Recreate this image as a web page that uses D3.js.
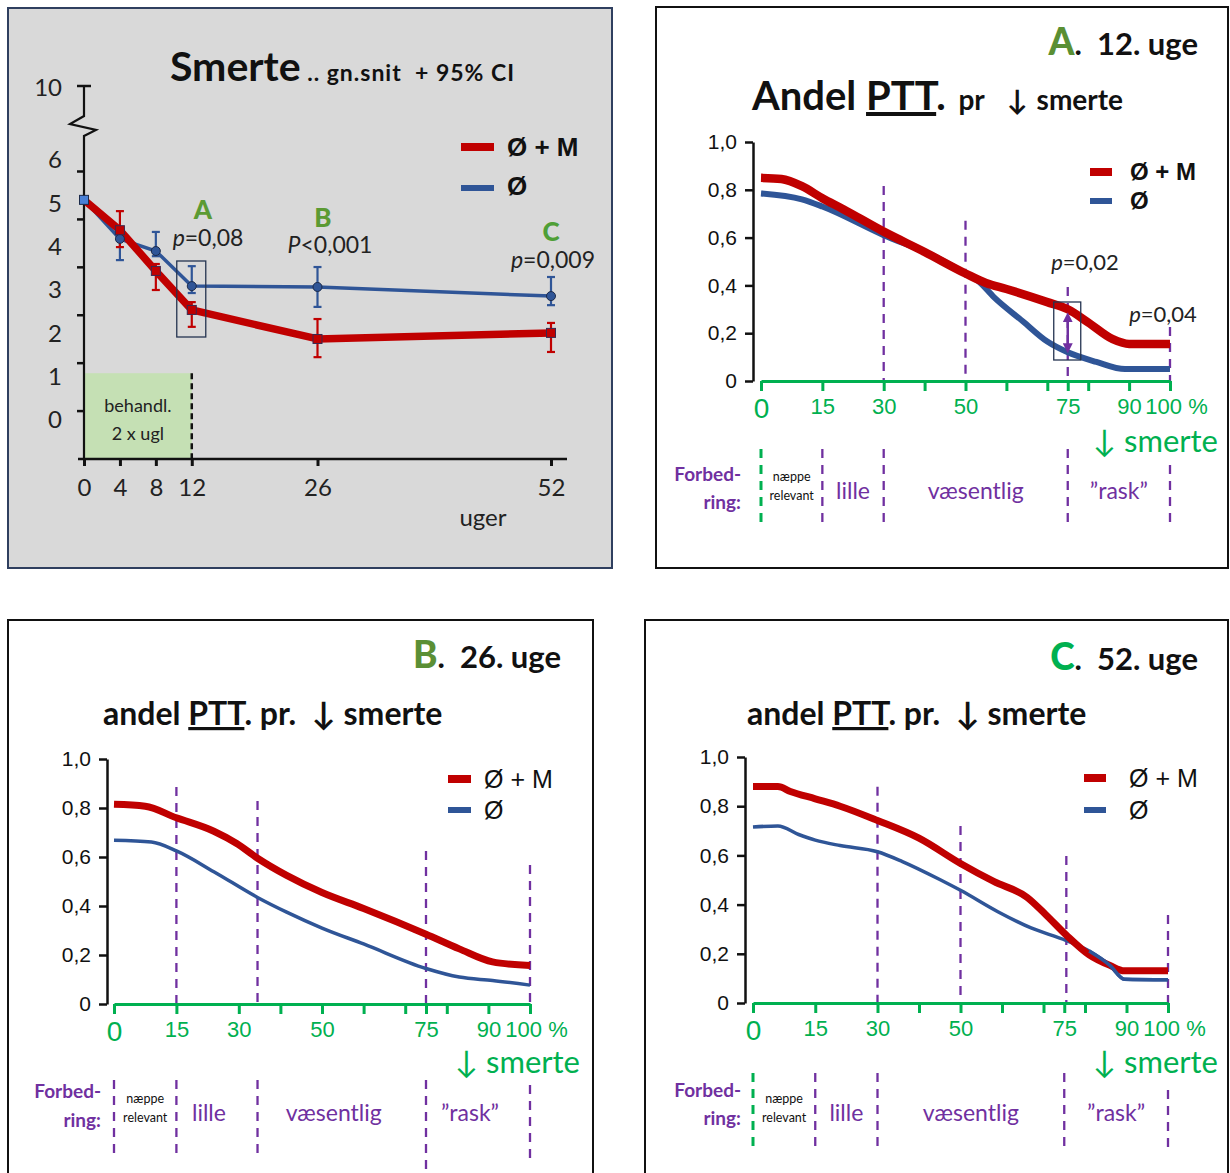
<!DOCTYPE html>
<html><head><meta charset="utf-8">
<script src="https://cdn.jsdelivr.net/npm/d3@7"></script>
<style>
body{margin:0;background:#fff;}
svg{display:block;}
text{font-family:Lato,'DejaVu Sans',sans-serif;}
.ar, .ar text{font-family:'Liberation Sans',Arial,sans-serif;}
</style></head><body>
<svg id="c" width="1230" height="1173"></svg>
<script>
// ---------------- DATA ----------------
// Panel 1: mean pain (0-10) with 95% CI by week
const weeks = [0, 4, 8, 12, 26, 52];
const painRed = [5.08, 4.38, 3.44, 2.54, 1.87, 2.01];      // Ø + M
const painRedLo = [5.08, 3.99, 3.00, 2.15, 1.45, 1.57];
const painRedHi = [5.08, 4.82, 3.60, 2.72, 2.33, 2.24];
const painBlue = [5.08, 4.18, 3.90, 3.09, 3.07, 2.86];     // Ø
const painBlueLo = [5.08, 3.69, 3.78, 2.93, 2.61, 2.65];
const painBlueHi = [5.08, 4.32, 4.34, 3.55, 3.53, 3.30];
const painTicks = [0, 1, 2, 3, 4, 5, 6];
const painTopTick = 10;
const treatWeeks = [0, 12];
const treatTop = 1.08;
const markLetters = ["A", "B", "C"];
const markWeeks = [12, 26, 52];
const pTexts1 = [["p", "=0,08"], ["P", "<0,001"], ["p", "=0,009"]];

// Panels A/B/C: share of patients (PTT) by % pain reduction
const pctTicks = [0, 15, 30, 40, 50, 60, 70, 75, 80, 90, 100];
const pctLabels = [0, 15, 30, 50, 75, 90, 100];
const shareTicks = [0, 0.2, 0.4, 0.6, 0.8, 1.0];

const aRedX = [0, 5, 10, 15, 20, 30, 40, 50, 55, 60, 70, 75, 80, 86, 90, 100];
const aRedY = [0.85, 0.845, 0.815, 0.765, 0.72, 0.625, 0.54, 0.45, 0.41, 0.385, 0.33, 0.30, 0.245, 0.175, 0.155, 0.155];
const aBlueX = [0, 10, 15, 30, 42, 50, 53, 57, 64, 70, 75, 82, 89, 100];
const aBlueY = [0.785, 0.76, 0.73, 0.61, 0.525, 0.45, 0.42, 0.35, 0.25, 0.165, 0.12, 0.08, 0.05, 0.05];

const bRedX = [0, 7.5, 15, 24, 29.5, 34.5, 41.5, 50, 60, 75, 83, 91, 100];
const bRedY = [0.815, 0.807, 0.76, 0.705, 0.655, 0.595, 0.525, 0.455, 0.39, 0.285, 0.225, 0.172, 0.157];
const bBlueX = [0, 9, 15, 24, 34.5, 41.5, 50, 60, 75, 83, 91, 100];
const bBlueY = [0.668, 0.661, 0.625, 0.54, 0.435, 0.375, 0.31, 0.245, 0.145, 0.11, 0.096, 0.077];

const cRedX = [0, 6, 9, 15, 21, 30, 40, 50, 58, 66, 70.5, 75.5, 81, 86, 89.5, 100];
const cRedY = [0.88, 0.88, 0.86, 0.83, 0.80, 0.742, 0.67, 0.567, 0.494, 0.43, 0.36, 0.276, 0.196, 0.153, 0.131, 0.131];
const cBlueX = [0, 6, 11, 15, 21, 30, 36, 45, 50, 59, 67, 75.5, 81, 86, 89.5, 100];
const cBlueY = [0.715, 0.72, 0.685, 0.662, 0.64, 0.615, 0.575, 0.502, 0.458, 0.371, 0.305, 0.254, 0.211, 0.153, 0.097, 0.095];

// dashed reference lines inside plots: [pct, top value]
const aGuides = [[30, 0.816], [50, 0.67], [75, 0.393], [100, 0.226]];
const bGuides = [[15, 0.886], [34.5, 0.829], [75, 0.624], [100, 0.567]];
const cGuides = [[30, 0.879], [50, 0.72], [75.5, 0.598], [100, 0.358]];
// improvement-category dividers
const aDivs = [0, 15, 30, 75, 100];
const bDivs = [0, 15, 34.5, 75, 100];
const cDivs = [0, 15, 30, 75, 100];
const zoneNames = ["lille", "væsentlig", "\u201Drask\u201D"];
const legendNames = ["Ø + M", "Ø"];

// ---------------- COLORS ----------------
const RED = "#c00000", BLUE = "#2f5597", GREEN = "#00b050", PURPLE = "#7030a0";

const svg = d3.select("#c");
svg.append("rect").attr("width", 1230).attr("height", 1173).attr("fill", "#fff");

// ================= PANEL 1 =================
(function () {
  const g = svg.append("g");
  g.append("rect").attr("x", 8).attr("y", 8).attr("width", 604).attr("height", 560)
    .attr("fill", "#d9d9d9").attr("stroke", "#2f3f5f").attr("stroke-width", 2);

  const x = d3.scaleLinear([0, 52], [84, 551]);
  const yT = d3.scaleLinear([0, 6], [459, 171.5]);   // tick marks
  const y = d3.scaleLinear([0, 6], [420, 160]);      // labels & data as read

  // treatment band
  g.append("rect").attr("x", x(treatWeeks[0])).attr("y", y(treatTop))
    .attr("width", x(treatWeeks[1]) - x(treatWeeks[0])).attr("height", yT(0) - y(treatTop))
    .attr("fill", "#c5e0b4");
  g.append("line").attr("x1", x(12)).attr("x2", x(12)).attr("y1", y(treatTop)).attr("y2", yT(0))
    .attr("stroke", "#111").attr("stroke-width", 2.5).attr("stroke-dasharray", "6,4");
  const mid = (x(treatWeeks[0]) + x(treatWeeks[1])) / 2;
  g.append("text").attr("x", mid).attr("y", 412).attr("text-anchor", "middle")
    .attr("font-size", 18).attr("fill", "#222").text("behandl.");
  g.append("text").attr("x", mid).attr("y", 440).attr("text-anchor", "middle")
    .attr("font-size", 18).attr("fill", "#222").text("2 x ugl");

  // y axis with break
  const ax = x(0), top = 86;
  g.append("path").attr("d", `M${ax},${top}V116L${ax - 14},124L${ax + 12},130L${ax},136V${yT(0)}`)
    .attr("fill", "none").attr("stroke", "#111").attr("stroke-width", 2.2);
  g.append("line").attr("x1", ax - 7).attr("x2", ax + 7).attr("y1", top).attr("y2", top)
    .attr("stroke", "#111").attr("stroke-width", 2.5);
  g.selectAll(".yt").data(painTicks.slice(1)).join("line")
    .attr("x1", ax - 7).attr("x2", ax).attr("y1", d => yT(d)).attr("y2", d => yT(d))
    .attr("stroke", "#111").attr("stroke-width", 2.5);
  g.selectAll(".yl").data(painTicks).join("text")
    .attr("x", 62).attr("y", d => y(d)).attr("dy", "0.35em").attr("text-anchor", "end")
    .attr("font-size", 24).attr("fill", "#222").text(d => d);
  g.append("text").attr("x", 62).attr("y", top + 2).attr("dy", "0.35em").attr("text-anchor", "end")
    .attr("font-size", 24).attr("fill", "#222").text(painTopTick);

  // x axis
  g.append("line").attr("x1", 78).attr("x2", 567).attr("y1", yT(0)).attr("y2", yT(0))
    .attr("stroke", "#111").attr("stroke-width", 2.5);
  const xa = d3.axisBottom(x).tickValues(weeks).tickSize(7).tickPadding(13).tickSizeOuter(0);
  const xg = g.append("g").attr("transform", `translate(0,${yT(0)})`).call(xa);
  xg.select(".domain").remove();
  xg.selectAll(".tick line").attr("stroke", "#111").attr("stroke-width", 3);
  xg.selectAll(".tick text").attr("font-size", 24).attr("fill", "#222").attr("font-family", "Lato");
  g.append("text").attr("x", 483).attr("y", 526).attr("text-anchor", "middle")
    .attr("font-size", 24).attr("fill", "#222").text("uger");

  // lines
  const line = d3.line().x(d => x(d[0])).y(d => y(d[1]));
  g.append("path").datum(d3.zip(weeks, painBlue)).attr("d", line)
    .attr("fill", "none").attr("stroke", BLUE).attr("stroke-width", 3.5);
  g.append("path").datum(d3.zip(weeks, painRed)).attr("d", line)
    .attr("fill", "none").attr("stroke", RED).attr("stroke-width", 7.5).attr("stroke-linejoin", "round");

  function bars(lo, hi, col) {
    weeks.forEach((w, i) => {
      if (lo[i] === hi[i]) return;
      const cx = x(w);
      g.append("line").attr("x1", cx).attr("x2", cx).attr("y1", y(lo[i])).attr("y2", y(hi[i]))
        .attr("stroke", col).attr("stroke-width", 2.2);
      [lo[i], hi[i]].forEach(v => g.append("line").attr("x1", cx - 4).attr("x2", cx + 4)
        .attr("y1", y(v)).attr("y2", y(v)).attr("stroke", col).attr("stroke-width", 2.2));
    });
  }
  bars(painBlueLo, painBlueHi, BLUE);
  bars(painRedLo, painRedHi, RED);

  g.selectAll(".bc").data(d3.zip(weeks, painBlue).slice(1)).join("circle")
    .attr("cx", d => x(d[0])).attr("cy", d => y(d[1])).attr("r", 4.5)
    .attr("fill", BLUE).attr("stroke", "#1b2a4a").attr("stroke-width", 1);
  g.selectAll(".rs").data(d3.zip(weeks, painRed).slice(1)).join("rect")
    .attr("x", d => x(d[0]) - 4.5).attr("y", d => y(d[1]) - 4.5).attr("width", 9).attr("height", 9)
    .attr("fill", RED).attr("stroke", "#3a2850").attr("stroke-width", 1);
  g.append("rect").attr("x", x(0) - 4.5).attr("y", y(painBlue[0]) - 4.5).attr("width", 9).attr("height", 9)
    .attr("fill", "#4a80d6").attr("stroke", "#1b2a4a").attr("stroke-width", 1);

  // highlight box at week 12
  g.append("rect").attr("x", x(12) - 15).attr("y", 261).attr("width", 29).attr("height", 76)
    .attr("fill", "none").attr("stroke", "#243350").attr("stroke-width", 1.3);

  // letters and p-values
  const letY = [210, 218, 232], pY = [238, 245, 260], pX = [208, 330, 553], letX = [203, 323, 551];
  markLetters.forEach((L, i) => {
    g.append("text").attr("x", letX[i]).attr("y", letY[i]).attr("dy", "0.35em").attr("text-anchor", "middle")
      .attr("font-size", 26).attr("font-weight", 900).attr("fill", i === 2 ? "#4f9f37" : "#5b9a33").text(L);
    const t = g.append("text").attr("x", pX[i]).attr("y", pY[i]).attr("dy", "0.35em").attr("text-anchor", "middle")
      .attr("font-size", 23).attr("fill", "#222");
    t.append("tspan").attr("font-style", "italic").text(pTexts1[i][0]);
    t.append("tspan").text(pTexts1[i][1]);
  });

  // title
  const tt = g.append("text").attr("x", 170).attr("y", 81).attr("font-weight", 700).attr("fill", "#111")
    .attr("xml:space", "preserve");
  tt.append("tspan").attr("font-size", 41).text("Smerte");
  tt.append("tspan").attr("font-size", 23).attr("letter-spacing", 1).text(" .. gn.snit  + 95% CI");

  // legend
  const lg = g.append("g").attr("class", "ar");
  lg.append("rect").attr("x", 461).attr("y", 143).attr("width", 33).attr("height", 8).attr("fill", RED);
  lg.append("rect").attr("x", 461).attr("y", 185).attr("width", 33).attr("height", 6).attr("fill", BLUE);
  lg.append("text").attr("x", 507).attr("y", 147).attr("dy", "0.35em").attr("font-size", 26).attr("font-weight", 700)
    .attr("fill", "#111").text(legendNames[0]);
  lg.append("text").attr("x", 507).attr("y", 186).attr("dy", "0.35em").attr("font-size", 26).attr("font-weight", 700)
    .attr("fill", "#111").text(legendNames[1]);
})();

// ================= PANELS A/B/C =================
const defs = svg.append("defs");
["s", "e"].forEach(k => defs.append("marker").attr("id", "ar" + k).attr("viewBox", "0 0 10 10")
  .attr("refX", 5).attr("refY", 5).attr("markerWidth", 4).attr("markerHeight", 4)
  .attr("orient", "auto-start-reverse")
  .append("path").attr("d", "M0,0L10,5L0,10z").attr("fill", PURPLE));

function panel(o) {
  const g = svg.append("g");
  g.append("rect").attr("x", o.box[0]).attr("y", o.box[1]).attr("width", o.box[2]).attr("height", o.box[3])
    .attr("fill", "#fff").attr("stroke", "#111").attr("stroke-width", 2);
  const x = d3.scaleLinear([0, 100], [o.x0, o.x1]);
  const y = d3.scaleLinear([0, 1], [o.y0, o.y1]);

  // header
  const h = g.append("text").attr("x", o.hdr[0]).attr("y", o.hdr[1]).attr("text-anchor", "end")
    .attr("font-weight", 700).attr("xml:space", "preserve");
  h.append("tspan").attr("font-size", 37).attr("font-weight", 900).attr("fill", o.letCol).text(o.letter);
  h.append("tspan").attr("font-size", 31).attr("fill", "#111").text(".  " + o.week + ". uge");

  // title
  const t = g.append("text").attr("x", o.ttl[0]).attr("y", o.ttl[1]).attr("font-weight", 700)
    .attr("fill", "#111").attr("xml:space", "preserve");
  if (o.big) {
    t.append("tspan").attr("font-size", 40).text("Andel ");
    t.append("tspan").attr("font-size", 40).style("text-decoration", "underline").text("PTT");
    t.append("tspan").attr("font-size", 40).text(".");
    t.append("tspan").attr("font-size", 28).attr("dx", 6).text(" pr");
    t.append("tspan").attr("font-size", 28).attr("dx", 22).text("↓");
    t.append("tspan").attr("font-size", 28).attr("dx", 2).text(" smerte");
  } else {
    t.append("tspan").attr("font-size", 32).text("andel ");
    t.append("tspan").attr("font-size", 32).style("text-decoration", "underline").text("PTT");
    t.append("tspan").attr("font-size", 32).text(". pr.  ↓ smerte");
  }

  // guide lines
  g.selectAll(".gd").data(o.guides).join("line")
    .attr("x1", d => x(d[0])).attr("x2", d => x(d[0])).attr("y1", d => y(d[1])).attr("y2", y(0))
    .attr("stroke", PURPLE).attr("stroke-width", 2.3).attr("stroke-dasharray", "9,7");

  // y axis
  const ya = d3.axisLeft(y).tickValues(shareTicks).tickSize(8).tickPadding(8).tickSizeOuter(0)
    .tickFormat(d => d === 0 ? "0" : d3.format(".1f")(d).replace(".", ","));
  const yg = g.append("g").attr("class", "ar").attr("transform", `translate(${o.yAxisX},0)`).call(ya);
  yg.select(".domain").attr("stroke", "#111").attr("stroke-width", 2.5);
  yg.selectAll(".tick line").attr("stroke", "#111").attr("stroke-width", 2.5);
  yg.selectAll(".tick text").attr("font-size", 21).attr("fill", "#111");

  // x axis (green)
  const xa = d3.axisBottom(x).tickValues(pctTicks).tickSize(10).tickPadding(7).tickSizeOuter(0)
    .tickFormat(d => pctLabels.includes(d) ? (d === 100 ? "100 %" : d) : "");
  const xg = g.append("g").attr("class", "ar").attr("transform", `translate(0,${o.y0})`).call(xa);
  xg.select(".domain").attr("stroke", GREEN).attr("stroke-width", 3);
  xg.selectAll(".tick line").attr("stroke", GREEN).attr("stroke-width", 3);
  xg.selectAll(".tick text").attr("font-size", d => d === 0 ? 28 : 22).attr("fill", GREEN)
    .attr("dx", d => d === 100 ? 6 : 0);

  // curves
  const line = d3.line().x(d => x(d[0])).y(d => y(d[1])).curve(d3.curveMonotoneX);
  g.append("path").datum(d3.zip(o.bx, o.by)).attr("d", line).attr("fill", "none")
    .attr("stroke", BLUE).attr("stroke-width", o.bw);
  g.append("path").datum(d3.zip(o.rx, o.ry)).attr("d", line).attr("fill", "none")
    .attr("stroke", RED).attr("stroke-width", o.rw);
  if (o.blueOnTop) {
    g.append("path").datum(d3.zip(o.bx, o.by).filter(d => d[0] >= 78)).attr("d", line).attr("fill", "none")
      .attr("stroke", BLUE).attr("stroke-width", o.bw);
  }

  // legend
  const lg = g.append("g").attr("class", "ar");
  lg.append("rect").attr("x", o.leg[0]).attr("y", o.leg[1] - 4).attr("width", o.leg[2]).attr("height", 8).attr("fill", RED);
  lg.append("rect").attr("x", o.leg[0]).attr("y", o.leg[3] - 3).attr("width", o.leg[2]).attr("height", 6).attr("fill", BLUE);
  lg.append("text").attr("x", o.leg[4]).attr("y", o.leg[1]).attr("dy", "0.35em").attr("font-size", o.legFs)
    .attr("font-weight", o.legBold ? 700 : 400).attr("fill", "#111").text(legendNames[0]);
  lg.append("text").attr("x", o.leg[4]).attr("y", o.leg[3]).attr("dy", "0.35em").attr("font-size", o.legFs)
    .attr("font-weight", o.legBold ? 700 : 400).attr("fill", "#111").text(legendNames[1]);

  // ↓ smerte
  g.append("text").attr("x", o.sm[0]).attr("y", o.sm[1]).attr("text-anchor", "end")
    .attr("font-size", 31).attr("fill", GREEN).text("↓ smerte");

  // Forbedring
  g.append("text").attr("x", o.forb[0]).attr("y", o.forb[1]).attr("text-anchor", "end")
    .attr("font-size", 19).attr("font-weight", 700).attr("fill", PURPLE).text("Forbed-");
  g.append("text").attr("x", o.forb[0]).attr("y", o.forb[2]).attr("text-anchor", "end")
    .attr("font-size", 19).attr("font-weight", 700).attr("fill", PURPLE).text("ring:");

  g.selectAll(".dv").data(o.divs).join("line")
    .attr("x1", d => x(d)).attr("x2", d => x(d))
    .attr("y1", (d, i) => i === o.divs.length - 1 ? o.dy[2] : o.dy[0])
    .attr("y2", (d, i) => (o.longIdx === i ? o.dy[3] : o.dy[1]))
    .attr("stroke", (d, i) => i === 0 && o.firstGreen ? GREEN : PURPLE)
    .attr("stroke-width", (d, i) => i === 0 && o.firstGreen ? 3 : 2.3)
    .attr("stroke-dasharray", "9,7");

  const m0 = (x(o.divs[0]) + x(o.divs[1])) / 2;
  g.append("text").attr("x", m0).attr("y", o.zy - 10).attr("text-anchor", "middle")
    .attr("font-size", 12.5).attr("fill", "#111").text("næppe");
  g.append("text").attr("x", m0).attr("y", o.zy + 9).attr("text-anchor", "middle")
    .attr("font-size", 12.5).attr("fill", "#111").text("relevant");
  zoneNames.forEach((n, i) => {
    const m = (x(o.divs[i + 1]) + x(o.divs[i + 2])) / 2 + (o.zShift || 0);
    g.append("text").attr("x", m).attr("y", o.zy).attr("dy", "0.35em").attr("text-anchor", "middle")
      .attr("font-size", 23).attr("fill", PURPLE).text(n);
  });
  return { g, x, y };
}

const A = panel({
  box: [656, 7, 572, 561], x0: 761, x1: 1170, y0: 381, y1: 142, yAxisX: 753,
  letter: "A", letCol: "#5a8f33", week: 12, hdr: [1198, 55], ttl: [752, 110], big: true,
  guides: aGuides, rx: aRedX, ry: aRedY, bx: aBlueX, by: aBlueY, rw: 8.5, bw: 6,
  leg: [1090, 172, 22, 201, 1130], legFs: 24, legBold: true,
  sm: [1218, 452], forb: [741, 481, 509], divs: aDivs, dy: [449, 527, 465, 527], firstGreen: true,
  zy: 491
});
const B = panel({
  box: [8, 620, 585, 562], x0: 114, x1: 530, y0: 1004, y1: 759, yAxisX: 107,
  letter: "B", letCol: "#5b8f35", week: 26, hdr: [561, 668], ttl: [103, 725], big: false,
  guides: bGuides, rx: bRedX, ry: bRedY, bx: bBlueX, by: bBlueY, rw: 7, bw: 3.5,
  leg: [448, 779, 23, 810, 484], legFs: 25, legBold: false,
  sm: [580, 1073], forb: [101, 1098, 1127], divs: bDivs, dy: [1080, 1160, 1085, 1175], longIdx: 3,
  firstGreen: false, zy: 1113, zShift: -8
});
const C = panel({
  box: [645, 620, 583, 562], x0: 753, x1: 1168, y0: 1003, y1: 757, yAxisX: 745,
  letter: "C", letCol: GREEN, week: 52, hdr: [1198, 670], ttl: [747, 725], big: false,
  guides: cGuides, rx: cRedX, ry: cRedY, bx: cBlueX, by: cBlueY, rw: 7, bw: 3.5, blueOnTop: true,
  leg: [1084, 778, 22, 810, 1129], legFs: 25, legBold: false,
  sm: [1218, 1073], forb: [741, 1097, 1125], divs: cDivs, dy: [1073, 1152, 1090, 1152],
  firstGreen: true, zy: 1113
});

// Panel A annotations
(function () {
  const { g, x, y } = A;
  const p1 = g.append("text").attr("x", 1085).attr("y", 262).attr("dy", "0.35em").attr("text-anchor", "middle")
    .attr("font-size", 22).attr("fill", "#222");
  p1.append("tspan").attr("font-style", "italic").text("p");
  p1.append("tspan").text("=0,02");
  const p2 = g.append("text").attr("x", 1163).attr("y", 314).attr("dy", "0.35em").attr("text-anchor", "middle")
    .attr("font-size", 22).attr("fill", "#222");
  p2.append("tspan").attr("font-style", "italic").text("p");
  p2.append("tspan").text("=0,04");
  g.append("rect").attr("x", x(75) - 14).attr("y", 302).attr("width", 27).attr("height", 58)
    .attr("fill", "none").attr("stroke", "#243350").attr("stroke-width", 1.3);
  g.append("line").attr("x1", x(75)).attr("x2", x(75)).attr("y1", y(aRedY[11]) + 8).attr("y2", y(aBlueY[10]) - 4)
    .attr("stroke", PURPLE).attr("stroke-width", 2.5)
    .attr("marker-start", "url(#ars)").attr("marker-end", "url(#are)");
})();
</script>
</body></html>
